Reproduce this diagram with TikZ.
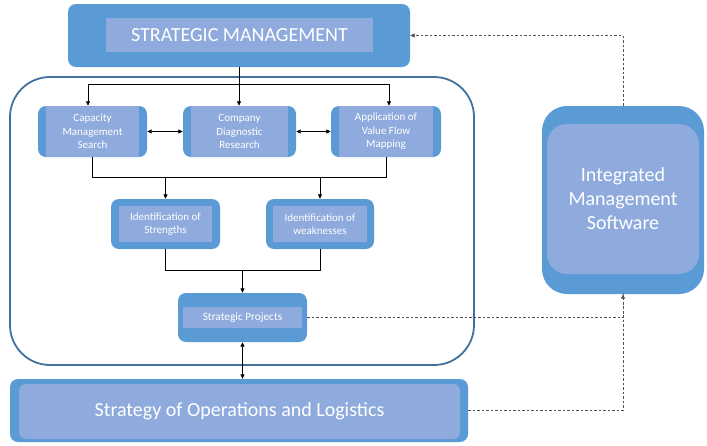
\documentclass[tikz,border=0pt]{standalone}
\usepackage{fontspec}
\setmainfont{Carlito}
\usetikzlibrary{arrows.meta}
\definecolor{dkblue}{HTML}{5B9BD5}
\definecolor{ltblue}{HTML}{8FAADC}
\definecolor{frameblue}{HTML}{41719C}
\definecolor{dashgray}{HTML}{505050}
\begin{document}
\begin{tikzpicture}[x=1pt,y=-1pt,
  outerbox/.style={fill=dkblue, draw=none, rounded corners=8pt, inner sep=0pt},
  innerbox/.style={fill=ltblue, draw=none, inner sep=0pt, text=white, align=center},
  smalltext/.style={font=\fontsize{11}{13.5}\selectfont},
  midtext/.style={font=\fontsize{11}{13.5}\selectfont},
  bigtext/.style={font=\fontsize{20}{24}\selectfont},
  conn/.style={line width=0.8pt, black},
  arr/.style={conn, -{Triangle[length=4.5pt,width=4pt]}},
  darr/.style={conn, {Triangle[length=4.5pt,width=4pt]}-{Triangle[length=4.5pt,width=4pt]}},
  dline/.style={line width=0.8pt, dashgray, dash pattern=on 2.5pt off 2pt},
  darrow/.style={dline, -{Triangle[length=4.5pt,width=4pt]}}
]
\useasboundingbox (0,0) rectangle (707,445);

% container
\node[draw=frameblue, line width=1.8pt, rounded corners=40pt, minimum width=464pt, minimum height=288pt, inner sep=0pt] (cont) at (242,221) {};

% Strategic management
\node[outerbox, minimum width=342pt, minimum height=63pt] (sm) at (239,35.5) {};
\node[innerbox, bigtext, minimum width=267pt, minimum height=34pt] (smi) at (239.5,35) {STRATEGIC MANAGEMENT};

% Row 1
\node[outerbox, minimum width=109pt, minimum height=51pt] (cap) at (92.5,131.5) {};
\node[innerbox, smalltext, minimum width=93pt, minimum height=51pt] (capi) at (92.5,131.5) {Capacity\\Management\\Search};
\node[outerbox, minimum width=113pt, minimum height=51pt] (comp) at (239.5,131.5) {};
\node[innerbox, smalltext, minimum width=97pt, minimum height=51pt] (compi) at (239.5,131.5) {Company\\Diagnostic\\Research};
\node[outerbox, minimum width=110pt, minimum height=51pt] (app) at (386,131.5) {};
\node[innerbox, smalltext, minimum width=94pt, minimum height=51pt] (appi) at (386,131.5) {Application of\\Value Flow\\Mapping};

% Row 2
\node[outerbox, minimum width=109pt, minimum height=50pt] (str) at (165.5,224) {};
\node[innerbox, midtext, minimum width=93pt, minimum height=36pt] (stri) at (165.5,224) {Identification of\\Strengths};
\node[outerbox, minimum width=108pt, minimum height=50pt] (weak) at (320,224) {};
\node[innerbox, midtext, minimum width=94pt, minimum height=36pt] (weaki) at (320,224) {Identification of\\weaknesses};

% Strategic projects
\node[outerbox, minimum width=129pt, minimum height=49pt] (sp) at (242.5,317.5) {};
\node[innerbox, font=\fontsize{11.3}{13}\selectfont, minimum width=119pt, minimum height=21pt] (spi) at (242.5,317.5) {Strategic Projects};

% Bottom box
\node[outerbox, minimum width=458pt, minimum height=63pt] (bot) at (239,410.5) {};
\node[innerbox, bigtext, rounded corners=7pt, minimum width=441pt, minimum height=55pt] (boti) at (239.5,411.5) {Strategy of Operations and Logistics};

% Integrated management software
\node[outerbox, rounded corners=25pt, minimum width=162pt, minimum height=188pt] (ims) at (623,200) {};
\node[innerbox, bigtext, rounded corners=20pt, minimum width=152pt, minimum height=150pt] (imsi) at (623,199) {Integrated\\Management\\Software};

% connectors
\coordinate (j1) at (240,84);
\coordinate (j1l) at (88,84);
\coordinate (j1r) at (389,84);
\draw[conn] (sm.south) -- (sm.south |- j1);
\draw[conn] (j1l) -- (j1r);
\draw[arr] (j1l) -- (j1l |- cap.north);
\draw[arr] (sm.south |- j1) -- (sm.south |- comp.north);
\draw[arr] (j1r) -- (j1r |- app.north);

\draw[darr] (cap.east) -- (comp.west);
\draw[darr] (comp.east) -- (app.west);

\coordinate (j2) at (0,177);
\draw[conn] (cap.south) -- (cap.south |- j2) -- (app.south |- j2) -- (app.south);
\draw[arr] (str.north |- j2) -- (str.north);
\draw[arr] (weak.north |- j2) -- (weak.north);

\coordinate (j3) at (0,270);
\draw[conn] (str.south) -- (str.south |- j3) -- (weak.south |- j3) -- (weak.south);
\draw[arr] (sp.north |- j3) -- (sp.north);

\draw[darr] (sp.south) -- (sp.south |- bot.north);

\draw[dline] (bot.east) -| (ims.south);
\draw[darrow] (sp.east) -| (ims.south);
\draw[darrow] (ims.north) |- (sm.east);
\end{tikzpicture}
\end{document}
